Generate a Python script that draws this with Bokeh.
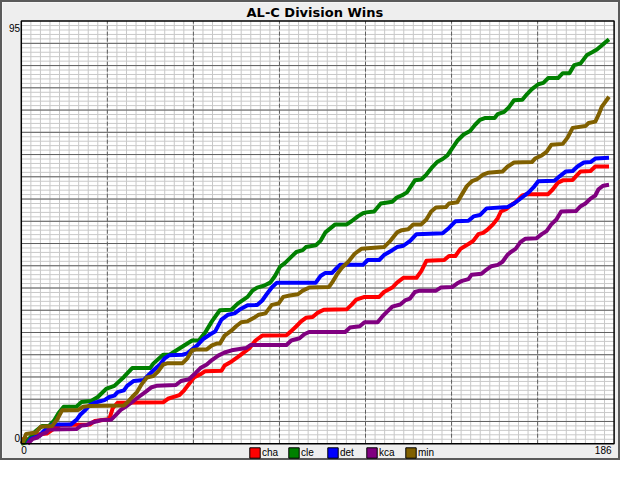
from bokeh.plotting import figure
from bokeh.models import Range1d, Label, Legend, LegendItem
from bokeh.embed import file_html
from bokeh.resources import INLINE

TITLE = "AL-C Division Wins"
X_MAX = 186
Y_MAX = 95
teams = ["cha", "cle", "det", "kca", "min"]
colors = ["#FF0000", "#008000", "#0000FF", "#800080", "#806000"]

cha = [(0,1),(2.5,1),(4,2),(8,2.3),(10.5,3.5),(12.3,4.2),(21.5,4.3),(23,5.1),(27.6,5.5),(28.7,8),(30.2,9.2),
       (44.5,9.3),(46,10.1),(49.6,10.9),(51.1,12),(52.6,13.4),(54.2,14.9),(56.2,15.6),(57.7,16.3),(62.8,16.4),
       (63.8,17.6),(66,18.5),(68,19.5),(71.5,21.4),(73.5,23.2),(75.6,24.3),(83.2,24.4),(84.7,25.3),(86.3,26.4),
       (87.8,27.5),(89.3,28.3),(91.4,28.5),(92.9,29.4),(94.9,30.1),(102.1,30.2),(103.6,31.2),(105.1,32.4),
       (107.7,33),(112.3,33),(113.8,34.1),(116.4,35.1),(117.9,36.2),(119.9,37.3),(124,37.3),(125.5,38.8),
       (127.1,41.1),(132.7,41.3),(134.2,42.2),(136.2,42.2),(137.8,43.8),(140.3,44.9),(141.8,45.6),(143.4,47.1),
       (144.9,47.4),(146.4,48.2),(148,49.3),(149.5,50.7),(150.5,52.2),(152.1,52.7),(153.6,53.6),(155.1,54.3),
       (157.2,55.8),(158.7,56.1),(165.3,56.1),(166.8,57.2),(168.4,58.7),(169.9,59.2),(173,59.3),(174,60.1),
       (175.5,61.2),(178.6,61.3),(180.1,62.3),(184.4,62.3)]

cle = [(0,0),(1.5,0.3),(4.6,2.9),(6.6,4),(8.7,4),(10.2,5.1),(11.7,6.9),(13.3,8.3),(17.3,8.3),(18.9,9.4),
       (21.9,9.6),(24,10.5),(26.6,12.3),(29.2,13),(32.2,15),(34.8,17),(40.4,17),(41.4,18),(44.5,20),(46.5,20),
       (49.6,21.4),(53.6,23.2),(55.7,23.2),(57.7,25),(59.8,27.5),(62.3,30),(65.9,30.1),(67.9,31.5),(71,33),
       (72.5,34.4),(74,35.1),(76.1,35.5),(78.1,36.2),(79.6,37.7),(81.2,39.8),(82.7,40.6),(84.7,42),(86.3,43.1),
       (88.3,43.5),(89.3,44.2),(92.4,44.6),(93.9,45.6),(95.4,47.5),(98.5,49.3),(102.1,49.3),(103.6,50),
       (105.6,51.1),(107.2,51.8),(108.2,52),(110.7,52.2),(112.8,54),(116.4,54.4),(117.9,55.4),(119.4,55.8),
       (121,56.5),(123.5,59.2),(125.5,59.4),(127.1,60.5),(129.1,62.3),(130.6,63.4),(132.2,64),(133.7,64.8),
       (134.7,65.9),(136.8,68.1),(138.8,69.5),(140.8,70.3),(142.4,71.7),(143.9,72.8),(145.4,73.2),(148.5,73.2),
       (149.5,74.1),(151.5,74.6),(153.1,75.7),(154.6,77.2),(157.2,77.3),(158.7,78.6),(160.2,79.7),(162.2,80.8),
       (163.8,81.1),(165.3,82.2),(168.4,82.2),(169.9,83.3),(172,83.3),(173.5,85.1),(175.5,85.5),(177.5,87.4),
       (179.1,88),(180.6,88.6),(182.1,89.5),(183.2,90.2),(184.4,90.9)]

det = [(2,0),(3,1.1),(5.7,1.8),(7.25,3),(8.8,3.8),(9.8,4.3),(15.5,4.3),(17.4,5.4),(18.5,6.5),(20,7.5),
       (21.5,8.7),(23,9.2),(26.1,9.8),(27.6,10.5),(29.2,10.8),(30.2,11.6),(32.2,12),(33.2,13),(35.3,14.1),
       (38.4,14.3),(40,15.5),(41.5,16.5),(43.5,17.8),(45,19.2),(46.5,19.9),(50.6,20),(52.1,20.3),(53.6,21.2),
       (55.2,22.1),(57.2,23.6),(59.3,24.6),(60.8,25.2),(62.8,27.9),(64.9,29),(66.9,29.3),(68.4,30.1),(71,31.1),
       (74,31.2),(75.6,32.2),(77.1,33.7),(78.6,35.1),(80.2,36.2),(92.4,36.2),(93.9,37.7),(95.4,38.4),(97.5,38.4),
       (99,39.5),(100,40.2),(107.2,40.2),(108.7,41.3),(112.3,41.3),(113.8,42.4),(116.4,43.5),(117.9,44.2),
       (119.9,44.5),(122,45.6),(124,47.1),(132.2,47.3),(134.2,48.5),(136.2,50),(140.3,50.1),(141.9,51.1),
       (143.9,51.4),(146,52.9),(152.6,53.2),(154.6,54),(157.2,55.4),(159.2,56.5),(160.7,57.6),(162.2,59),
       (167.3,59.1),(168.9,60.1),(170.9,61.2),(173,61.3),(174.5,62.3),(176.5,63.2),(178.6,63.3),(180.1,64.1),
       (184.4,64.3)]

kca = [(2,0),(3.6,1.1),(5.1,1.4),(6.6,2.2),(7.8,2.5),(8.7,3.2),(17.3,3.3),(18.9,4.1),(20.5,4.2),(22,4.7),
       (25.1,5.3),(28.2,5.4),(29.7,6.5),(31.2,7.6),(32.7,8.3),(34.8,9.4),(36.8,10.5),(38.9,11.6),(40.9,12.7),
       (42.4,13),(48.5,13.2),(50.1,14.1),(52.6,14.5),(54.7,15.9),(56.2,17),(58.2,17.8),(59.8,18.8),(61.8,19.8),
       (63.8,20.5),(66,21),(70.5,21.5),(72,22.2),(83.2,22.2),(84.7,23.2),(87.3,23.7),(88.8,24.6),(90.3,25.1),
       (101.6,25.1),(103.1,26.1),(106.2,26.4),(107.7,27.3),(111.8,27.3),(113.3,28.6),(114.8,29.7),(116.4,30.8),
       (118.9,31.3),(120.4,32.2),(121.9,32.6),(123.5,34.1),(125,34.4),(130.1,34.4),(131.6,35.1),(135.2,35.2),
       (136.7,36),(138.3,36.6),(140.3,37),(141.3,38),(144.4,38.2),(145.9,39.1),(147.5,39.9),(149.5,40.2),
       (151,40.9),(152.5,42.4),(153.6,43.1),(155.1,43.8),(156.6,45.3),(158.2,46.1),(161.7,46.2),(163.3,47.1),
       (164.8,47.8),(166.3,49.3),(167.9,50.4),(169.4,52.2),(174,52.3),(175.5,53.4),(177,54),(178.6,55.1),
       (180.1,55.8),(181.1,57.2),(182.6,58),(184.4,58.2)]

mnt = [(0,0),(0.5,0.4),(1.5,2.2),(4.6,2.5),(6.1,3.8),(9.7,4),(11.2,5.4),(12.8,7.5),(17.9,7.6),(19.4,8.3),
       (21.5,8.5),(32.2,8.6),(33.3,9.3),(34.8,10.5),(36.3,11.6),(37.8,13.4),(39.4,14.9),(41.4,15.2),(43,16.3),
       (44.5,17.8),(46,18.1),(50.6,18.1),(52.1,19.2),(53.6,21),(55.2,21.2),(58.2,21.2),(59.8,22.1),(61.3,22.5),
       (62.3,22.5),(63.8,24.3),(65.9,25.4),(67.4,26.4),(69,27.3),(71,27.5),(73,28.3),(74.5,29),(76.6,29.3),
       (78.6,31.2),(80.7,31.5),(82.2,33),(84.2,33.3),(86.8,33.6),(88.3,34.4),(90.4,35.1),(96.5,35.2),(97.5,36.2),
       (99,38),(100.5,39.5),(102.6,40.9),(104.6,42.7),(106.7,43.8),(113.8,44.2),(115.8,45.6),(117.9,47.5),
       (119.4,48),(121.4,48.2),(123,49.3),(125.5,49.3),(127.1,50.4),(128.6,52.2),(130.1,53.1),(133.2,53.2),
       (134.2,54),(136.8,54.3),(138.3,56.1),(139.8,57.9),(141.4,59),(142.9,59.4),(144.9,60.5),(146.4,60.9),
       (151,61.2),(152.6,62.3),(154.6,63.2),(160.2,63.3),(161.2,64.1),(163.3,64.8),(164.8,65.6),(166.3,67.2),
       (169.9,67.4),(171.4,68.8),(173,71),(177,71.4),(178,72.1),(180.1,72.4),(181.1,73.9),(182.1,75.7),
       (183.2,76.8),(184.4,78)]

series = [cha, cle, det, kca, mnt]

x_major = [27, 54, 81, 108, 135, 162]
x_minor = list(range(3, X_MAX, 3))
y_major = list(range(5, Y_MAX, 5))
y_minor = list(range(1, Y_MAX))

FONT = "Liberation Sans"

# canvas 620x460; plot area from px 18.8..611.6 (x) and 18.6..441.2 (y)
W, H = 620, 460
L_PX, R_PX, T_PX, B_PX = 18.8, 611.6, 18.6, 441.2
sx = (R_PX - L_PX) / X_MAX
sy = (B_PX - T_PX) / Y_MAX
xr = Range1d(-L_PX / sx, X_MAX + (W - R_PX) / sx)
yr = Range1d(-(H - B_PX) / sy, Y_MAX + T_PX / sy)

p = figure(width=W, height=H, output_backend="svg", toolbar_location=None,
           x_range=xr, y_range=yr, x_axis_location=None, y_axis_location=None,
           title_location=None, min_border=0)
p.styles = {"border": "2px solid #5a5a5a"}
p.background_fill_color = "#EEEEEE"
p.border_fill_color = "#EEEEEE"
p.outline_line_color = None
p.grid.visible = False

# plot area
p.quad(left=[0], right=[X_MAX], bottom=[0], top=[Y_MAX], fill_color="white", line_color=None)
# minor grid
p.segment(x0=x_minor, y0=[0] * len(x_minor), x1=x_minor, y1=[Y_MAX] * len(x_minor),
          line_color="#C8C8C8", line_width=1)
p.segment(x0=[0] * len(y_minor), y0=y_minor, x1=[X_MAX] * len(y_minor), y1=y_minor,
          line_color="#C8C8C8", line_width=1)
# major grid
p.segment(x0=[0] * len(y_major), y0=y_major, x1=[X_MAX] * len(y_major), y1=y_major,
          line_color="#606060", line_width=1)
p.segment(x0=x_major, y0=[0] * len(x_major), x1=x_major, y1=[Y_MAX] * len(x_major),
          line_color="#606060", line_width=1, line_dash="4 2")

for pts, c in zip(series, colors):
    xs = [a for a, b in pts]
    ys = [b for a, b in pts]
    p.line(xs, ys, line_color=c, line_width=4, line_join="round")

# frame border
p.quad(left=[0], right=[X_MAX], bottom=[0], top=[Y_MAX], fill_color=None,
       line_color="black", line_width=1.5)

# legend swatches: zero-size hidden quads at each series' last point
items = []
for t, c, pts in zip(teams, colors, series):
    lx, ly = pts[-1]
    r = p.quad(left=[lx], right=[lx], top=[ly], bottom=[ly], fill_color=c,
               line_color="black", line_width=1)
    r.visible = False
    items.append(LegendItem(label=t, renderers=[r]))
legend = Legend(items=items, orientation="horizontal", location=(246, 3.5),
                margin=0, padding=0, spacing=3, glyph_width=13, glyph_height=13,
                label_standoff=1, label_width=22, label_height=13,
                label_text_font=FONT, label_text_font_size="10px", label_text_color="black",
                background_fill_alpha=0, border_line_alpha=0, click_policy="none")
p.add_layout(legend, "center")

lab = dict(text_font=FONT, text_font_size="10px", text_color="black", text_baseline="middle")
p.add_layout(Label(x=0, y=Y_MAX, text=str(Y_MAX), text_align="right", x_offset=-1.3, y_offset=-7, **lab))
p.add_layout(Label(x=0, y=0, text="0", text_align="right", x_offset=-1.3, y_offset=6, **lab))
p.add_layout(Label(x=0, y=0, text="0", text_align="left", x_offset=0, y_offset=-6.5, **lab))
p.add_layout(Label(x=X_MAX, y=0, text=str(X_MAX), text_align="right", x_offset=-2.6, y_offset=-6.5, **lab))
p.add_layout(Label(x=X_MAX / 2, y=Y_MAX, text=TITLE, text_align="center", text_baseline="middle",
                   x_offset=-2.8, y_offset=9, text_font="DejaVu Sans", text_font_size="13px",
                   text_font_style="bold", text_color="black"))

open("out.html", "w").write(file_html(p, INLINE))
